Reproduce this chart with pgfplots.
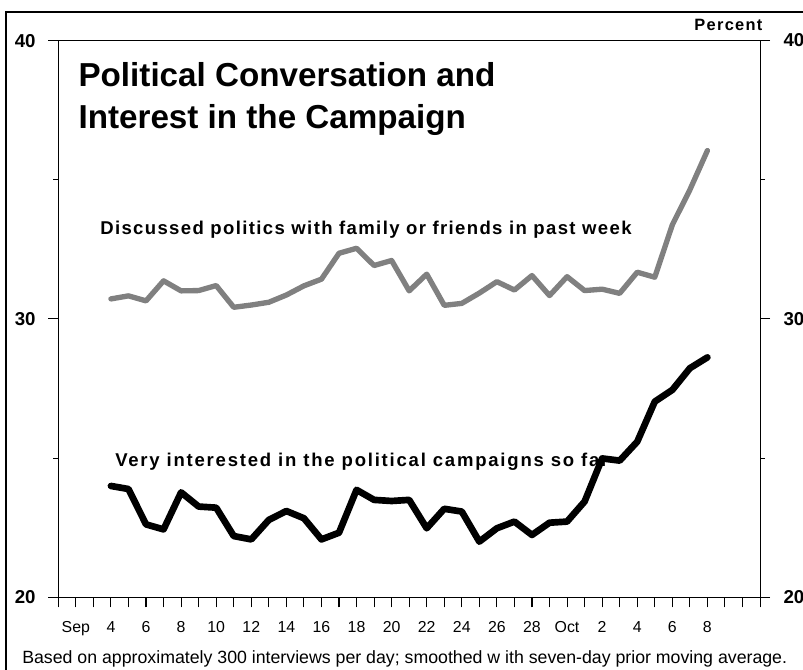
\documentclass[border=0pt]{standalone}
\usepackage{fontspec}
\setmainfont{Liberation Sans}
\newfontfamily\spacedA[LetterSpace=7.4]{Liberation Sans}
\newfontfamily\spacedB[LetterSpace=9.6]{Liberation Sans}
\newfontfamily\spacedC[LetterSpace=8]{Liberation Sans}
\usepackage{pgfplots}
\pgfplotsset{compat=1.18}

\pgfplotstableread{
day val
4 30.72
5 30.83
6 30.65
7 31.37
8 31.01
9 31.02
10 31.20
11 30.42
12 30.50
13 30.60
14 30.86
15 31.19
16 31.43
17 32.36
18 32.54
19 31.92
20 32.10
21 31.01
22 31.61
23 30.49
24 30.56
25 30.93
26 31.34
27 31.04
28 31.56
29 30.84
30 31.52
31 31.02
32 31.07
33 30.92
34 31.68
35 31.50
36 33.38
37 34.64
38 36.05
}\discussed

\pgfplotstableread{
day val
4 24.00
5 23.89
6 22.62
7 22.44
8 23.77
9 23.26
10 23.22
11 22.20
12 22.08
13 22.78
14 23.10
15 22.84
16 22.08
17 22.32
18 23.86
19 23.50
20 23.46
21 23.50
22 22.48
23 23.18
24 23.08
25 22.00
26 22.48
27 22.72
28 22.24
29 22.68
30 22.72
31 23.44
32 24.99
33 24.91
34 25.59
35 27.03
36 27.45
37 28.23
38 28.62
}\interested

\begin{document}
\begin{tikzpicture}
\begin{scope}[x=0.75pt,y=-0.75pt,shift={(-43.725pt,447.975pt)}]
  \draw[line width=1.5pt] (6.5,12.3) rectangle (830,700);
  \node[anchor=base west,inner sep=0,font=\bfseries\fontsize{24.9}{30}\selectfont] at (78.3,86.7) {Political Conversation and};
  \node[anchor=base west,inner sep=0,font=\bfseries\fontsize{24.9}{30}\selectfont] at (78.3,128.3) {Interest in the Campaign};
  \node[anchor=base west,inner sep=0,font=\spacedA\bfseries\fontsize{13.9}{14}\selectfont] at (100,235) {Discussed politics with family or friends in past week};
  \node[anchor=base west,inner sep=0,font=\spacedB\bfseries\fontsize{13.9}{14}\selectfont] at (115,466.7) {Very interested in the political campaigns so far};
  \node[anchor=base east,inner sep=0,font=\spacedC\bfseries\fontsize{12.3}{13}\selectfont] at (762.7,30.7) {Percent};
  \node[anchor=base west,inner sep=0,font=\bfseries\fontsize{14}{14}\selectfont] at (783.3,46.7) {40};
  \node[anchor=base west,inner sep=0,font=\bfseries\fontsize{14}{14}\selectfont] at (783.3,325.3) {30};
  \node[anchor=base west,inner sep=0,font=\bfseries\fontsize{14}{14}\selectfont] at (783.3,604) {20};
  \node[anchor=base west,inner sep=0,font=\fontsize{13.3}{14}\selectfont] at (22,664) {Based on approximately 300 interviews per day; smoothed w ith seven-day prior moving average.};
\end{scope}
\begin{axis}[
  at={(0,0)}, anchor=south west,
  scale only axis, width=526.3pt, height=417.5pt,
  xmin=1, xmax=41, ymin=20, ymax=40,
  xtick={1,...,41},
  xticklabels={,Sep,,4,,6,,8,,10,,12,,14,,16,,18,,20,,22,,24,,26,,28,,Oct,,2,,4,,6,,8,,,},
  ytick={20,30,40}, minor ytick={25,35},
  tick align=outside,
  xtick pos=lower, ytick pos=both, yticklabel pos=lower,
  major tick length=7.5pt, minor tick length=3.75pt,
  axis line style={line width=0.8pt},
  every tick/.style={black,line width=0.8pt},
  /pgf/number format/assume math mode=true,
  xticklabel style={font=\fontsize{11.9}{12}\selectfont, anchor=base, yshift=-18.75pt},
  yticklabel style={font=\bfseries\fontsize{14}{14}\selectfont, xshift=-6pt},
]
\addplot[color={rgb,255:red,128;green,128;blue,128}, line width=4pt, line join=round, line cap=round] table[x=day,y=val] {\discussed};
\addplot[black, line width=5pt, line join=round, line cap=round] table[x=day,y=val] {\interested};
\end{axis}
\pgfresetboundingbox
\useasboundingbox (-43.725pt,-54.525pt) rectangle (558.525pt,447.975pt);
\end{tikzpicture}
\end{document}
